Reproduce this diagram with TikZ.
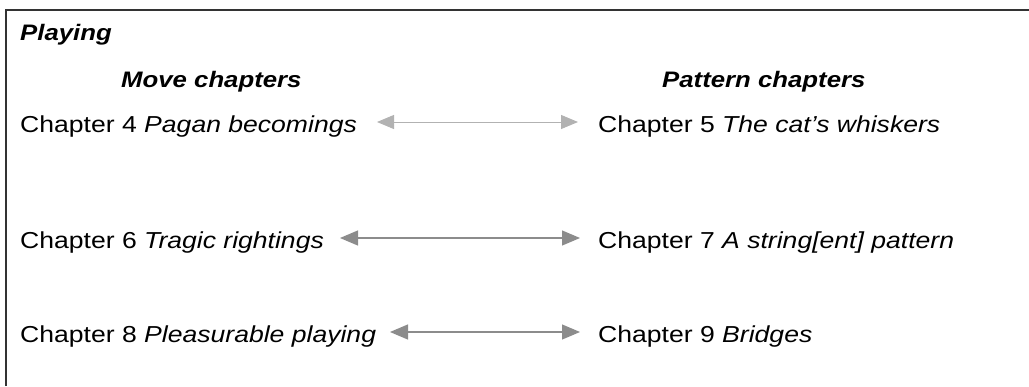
\documentclass[tikz,border=0pt]{standalone}
\usepackage{fontspec}
\setmainfont{Liberation Sans}[FakeStretch=1.15]
\usetikzlibrary{arrows.meta}
\begin{document}
\begin{tikzpicture}[x=1pt,y=-1pt,
  txt/.style={anchor=base west, inner sep=0pt, font=\fontsize{23.1}{28}\selectfont},
  hd/.style={anchor=base west, inner sep=0pt, font=\fontsize{22.4}{28}\selectfont\bfseries\itshape},
  link/.style={draw=black!45, line width=1.2pt, {Triangle[length=18pt,width=15pt,fill=black!45]}-{Triangle[length=18pt,width=15pt,fill=black!45]}},
  lightlink/.style={draw=black!30, line width=1pt, {Triangle[length=17pt,width=14pt,fill=black!30]}-{Triangle[length=17pt,width=14pt,fill=black!30]}},
  frame/.style={line width=1.6pt, draw=black!80}
  ]
\useasboundingbox (0,0) rectangle (1029,386);
\coordinate (fb) at (6,386);
\coordinate (ftl) at (6,10);
\coordinate (fr) at (1029,10);
\draw[frame] (fb) -- (ftl) -- (fr);

\node[hd] (title) at (20,40) {Playing};
\node[hd] (move) at (121,87) {Move chapters};
\node[hd] (pattern) at (662,87) {Pattern chapters};

\node[txt] (c4) at (20,132) {Chapter 4 \textit{Pagan becomings}};
\node[txt] (c5) at (598,132) {Chapter 5 \textit{The cat's whiskers}};
\node[txt] (c6) at (20,248) {Chapter 6 \textit{Tragic rightings}};
\node[txt] (c7) at (598,248) {Chapter 7 \textit{A string[ent] pattern}};
\node[txt] (c8) at (20,342) {Chapter 8 \textit{Pleasurable playing}};
\node[txt] (c9) at (598,342) {Chapter 9 \textit{Bridges}};

\coordinate (a1l) at (377,122);
\coordinate (a1r) at (578,122);
\coordinate (a2l) at (340,238);
\coordinate (a2r) at (580,238);
\coordinate (a3l) at (390,332);
\coordinate (a3r) at (580,332);

\draw[lightlink] (a1l) -- (a1r);
\draw[link] (a2l) -- (a2r);
\draw[link] (a3l) -- (a3r);
\end{tikzpicture}
\end{document}
